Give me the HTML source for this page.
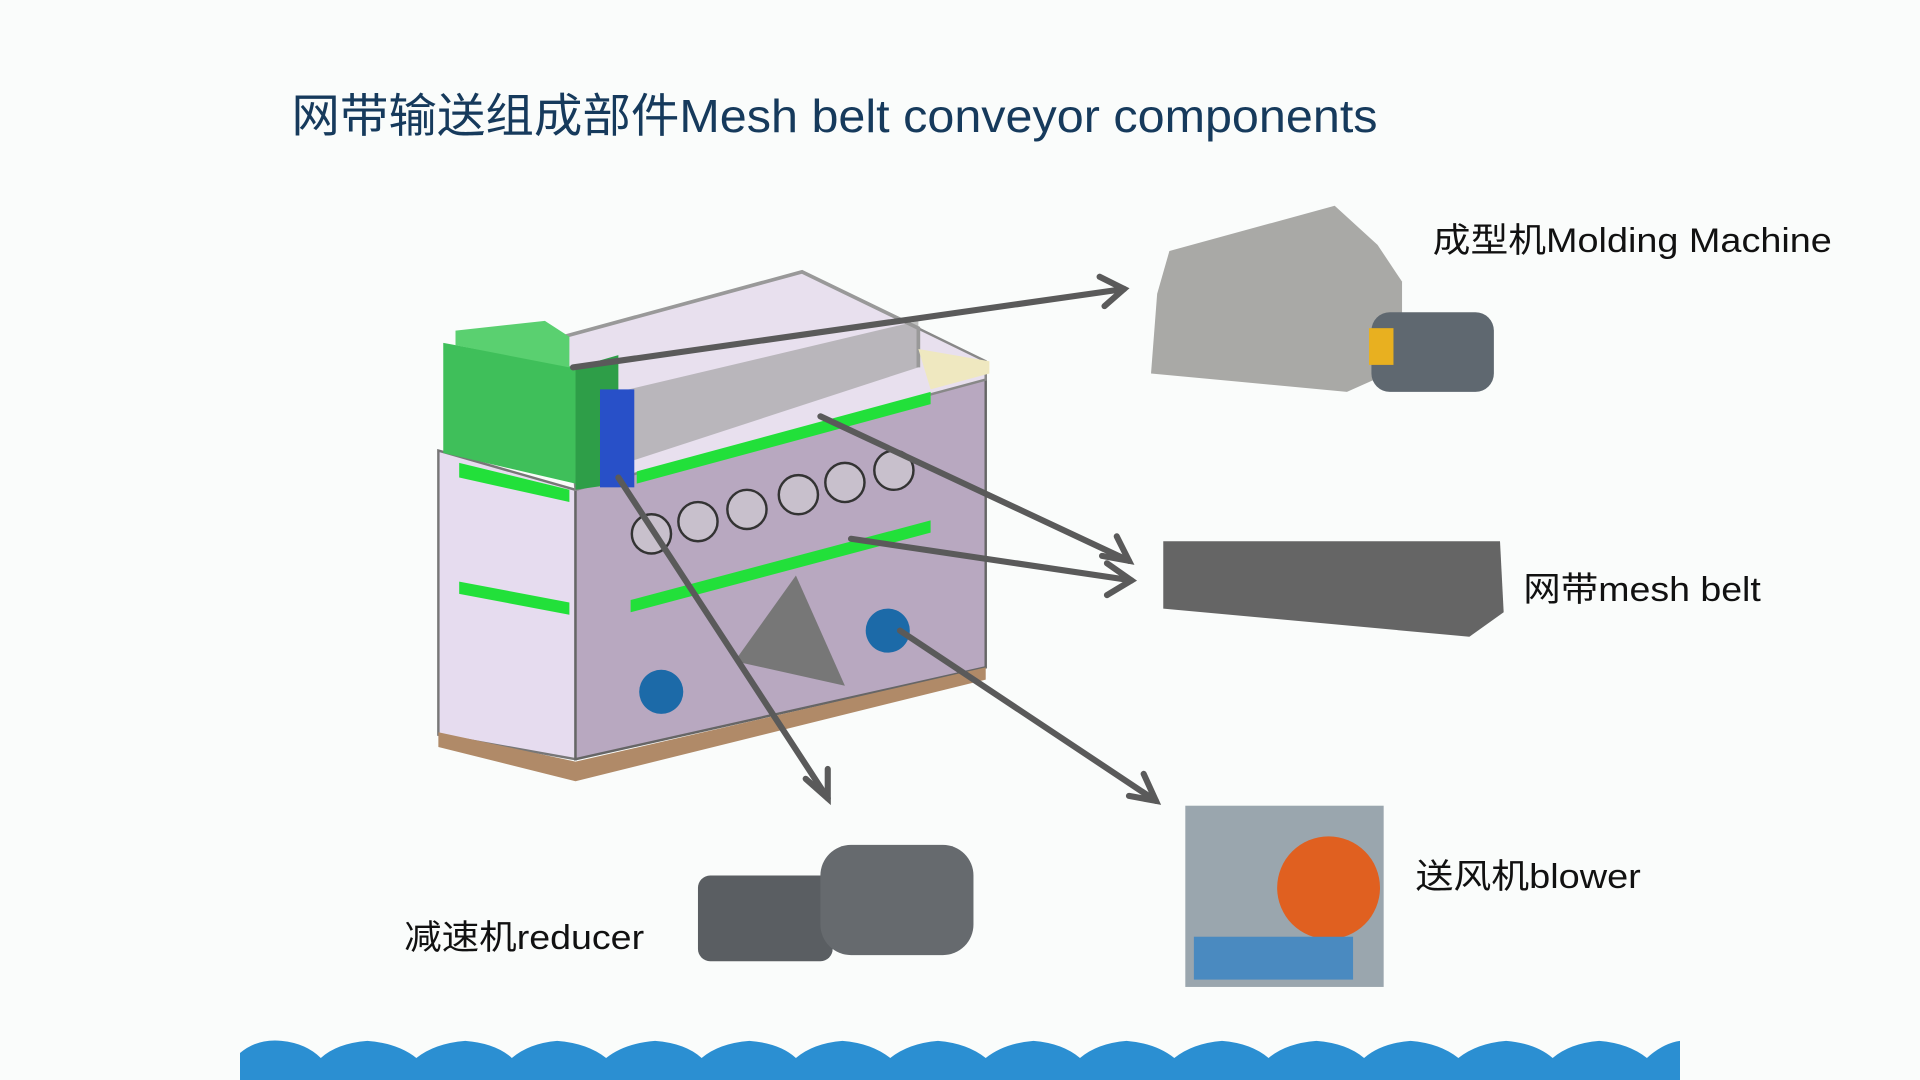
<!DOCTYPE html>
<html><head><meta charset="utf-8"><style>
html,body{margin:0;padding:0;background:#fafcfb;}
svg{display:block}
text{font-family:"Liberation Sans","Noto Sans CJK SC",sans-serif;}
</style></head><body>
<svg width="1920" height="1080" viewBox="0 0 1568 882" preserveAspectRatio="none">
<rect width="1568" height="882" fill="#fafcfb"/>
<text x="238" y="108" font-size="38" fill="#163a5c" textLength="887" lengthAdjust="spacingAndGlyphs">网带输送组成部件Mesh belt conveyor components</text>

<!-- machine body -->
<polygon points="358,368 470,400 470,620 358,600" fill="#e6dcef" stroke="#777" stroke-width="2"/>
<polygon points="470,400 805,300 805,545 470,620" fill="#b8a8c0" stroke="#666" stroke-width="2"/>
<polygon points="460,275 655,222 805,295 805,310 470,400" fill="#e8e0ee" stroke="#888" stroke-width="2"/>
<polyline points="460,275 655,222 750,268 750,300" fill="none" stroke="#999" stroke-width="3"/>
<polygon points="750,285 808,295 808,305 760,318" fill="#efe8c0"/>
<polygon points="505,320 750,262 750,300 505,380" fill="#999" opacity="0.6"/>
<polygon points="362,280 470,300 470,395 362,370" fill="#3fbf5a"/>
<polygon points="372,270 445,262 465,275 465,300 372,282" fill="#5ad070"/>
<polygon points="470,300 505,290 505,395 470,400" fill="#2e9e48"/>
<polygon points="358,598 470,622 805,545 805,555 470,638 358,610" fill="#b08a68"/>
<!-- green belts -->
<polygon points="375,378 465,400 465,410 375,390" fill="#22e03a"/>
<polygon points="520,385 760,320 760,330 520,395" fill="#22e03a"/>
<polygon points="375,475 465,492 465,502 375,485" fill="#22e03a"/>
<polygon points="515,490 760,425 760,435 515,500" fill="#22e03a"/>
<!-- fans -->
<g fill="#c8c0cc" stroke="#333" stroke-width="2">
<circle cx="532" cy="436" r="16"/><circle cx="570" cy="426" r="16"/><circle cx="610" cy="416" r="16"/>
<circle cx="652" cy="404" r="16"/><circle cx="690" cy="394" r="16"/><circle cx="730" cy="384" r="16"/>
</g>
<circle cx="540" cy="565" r="18" fill="#1c6aa8"/><circle cx="725" cy="515" r="18" fill="#1c6aa8"/>
<polygon points="600,540 650,470 690,560" fill="#777"/>
<rect x="490" y="318" width="28" height="80" fill="#2850c8"/>

<!-- right images -->
<polygon points="955,205 1090,168 1125,200 1145,230 1145,300 1100,320 940,305 945,240" fill="#a9a9a6"/>
<rect x="1120" y="255" width="100" height="65" rx="15" fill="#5f6870"/>
<rect x="1118" y="268" width="20" height="30" fill="#e8b020"/>
<polygon points="950,442 1225,442 1228,500 1200,520 950,497" fill="#4a4a4a" opacity="0.85"/>
<rect x="968" y="658" width="162" height="148" fill="#9aa6ae"/>
<circle cx="1085" cy="725" r="42" fill="#e06020"/>
<rect x="975" y="765" width="130" height="35" fill="#4a8ac0"/>
<rect x="570" y="715" width="110" height="70" rx="10" fill="#5a5e62"/>
<rect x="670" y="690" width="125" height="90" rx="25" fill="#666a6e"/>

<!-- arrows -->
<g stroke="#5a5a5a" stroke-width="5" fill="none" stroke-linecap="round">
<line x1="468" y1="300" x2="918" y2="236"/><polyline points="898,226 918,236 902,250"/>
<line x1="670" y1="340" x2="922" y2="458"/><polyline points="900,454 922,458 912,438"/>
<line x1="695" y1="440" x2="924" y2="474"/><polyline points="904,460 924,474 904,486"/>
<line x1="505" y1="390" x2="676" y2="652"/><polyline points="658,636 676,652 676,628"/>
<line x1="735" y1="515" x2="944" y2="654"/><polyline points="922,650 944,654 934,632"/>
</g>

<g font-size="28" fill="#111">
<text x="1170" y="206" textLength="326" lengthAdjust="spacingAndGlyphs">成型机Molding Machine</text>
<text x="1244" y="491" textLength="194" lengthAdjust="spacingAndGlyphs">网带mesh belt</text>
<text x="1156" y="725" textLength="184" lengthAdjust="spacingAndGlyphs">送风机blower</text>
<text x="330" y="775" textLength="196" lengthAdjust="spacingAndGlyphs">减速机reducer</text>
</g>

<path d="M196,882 L196,860 Q210,848 230,850 Q250,852 262,864 Q275,852 300,850 Q325,852 340,864 Q355,852 380,850 Q405,852 418,864 Q432,852 455,850 Q480,852 495,864 Q510,852 535,850 Q560,852 573,864 Q587,852 612,850 Q637,852 650,864 Q664,852 688,850 Q712,852 727,864 Q742,852 766,850 Q790,852 805,864 Q820,852 844,850 Q868,852 882,864 Q896,852 920,850 Q944,852 959,864 Q974,852 998,850 Q1022,852 1036,864 Q1050,852 1075,850 Q1100,852 1114,864 Q1128,852 1152,850 Q1176,852 1191,864 Q1206,852 1230,850 Q1254,852 1268,864 Q1282,852 1306,850 Q1330,852 1345,864 Q1358,852 1372,850 L1372,882 Z" fill="#2b8fd2"/>
</svg>
</body></html>
